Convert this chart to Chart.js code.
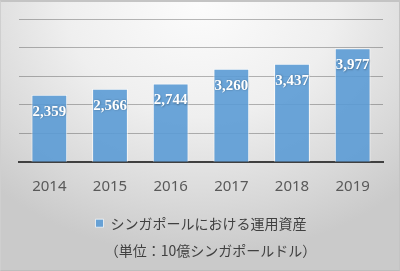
<!DOCTYPE html>
<html>
<head>
<meta charset="utf-8">
<script src="https://cdn.jsdelivr.net/npm/chart.js@4/dist/chart.umd.min.js"></script>
<style>
  html, body { margin: 0; padding: 0; }
  body { width: 400px; height: 271px; overflow: hidden; }
  .frame {
    position: relative;
    width: 400px; height: 271px;
    box-sizing: border-box;
    border-top: 2px solid #c4c4c4;
    border-left: 1px solid #cfcfcf;
    border-right: 1px solid #c4c4c4;
    border-bottom: 1px solid #bdbdbd;
    background: radial-gradient(ellipse 75% 95% at 50% 0%, #fcfcfc 0%, #efefef 45%, #d8d8d8 80%, #cacaca 100%);
  }
  canvas { position: absolute; left: -1px; top: -2px; }
</style>
</head>
<body>
<div class="frame">
  <canvas id="chart" width="400" height="271"></canvas>
</div>
<script>
// シンガポールにおける運用資産（単位：10億シンガポールドル）
const years = ['2014', '2015', '2016', '2017', '2018', '2019'];
const assets = [2359, 2566, 2744, 3260, 3437, 3977];
const seriesName = 'シンガポールにおける運用資産';
const unitNote = '      （単位：10億シンガポールドル）';

// 棒の中に数値を描く
const barValueLabels = {
  id: 'barValueLabels',
  afterDatasetsDraw(chart) {
    const ctx = chart.ctx;
    const meta = chart.getDatasetMeta(0);
    ctx.save();
    ctx.font = 'bold 15px "Liberation Serif", serif';
    ctx.fillStyle = '#ffffff';
    ctx.textAlign = 'center';
    ctx.textBaseline = 'middle';
    ctx.shadowColor = 'rgba(0,0,0,0.35)';
    ctx.shadowBlur = 2;
    ctx.shadowOffsetX = 0.5;
    ctx.shadowOffsetY = 0.5;
    meta.data.forEach((bar, i) => {
      ctx.fillText(assets[i].toLocaleString('en-US'), bar.x, bar.y + 17);
    });
    ctx.restore();
  }
};

// 凡例と単位の背景
const legendPanel = {
  id: 'legendPanel',
  beforeDraw(chart) {
    const lg = chart.legend;
    const sub = chart.subtitle;
    if (!lg || !sub) return;
    const ctx = chart.ctx;
    ctx.save();
    ctx.fillStyle = 'rgba(255,255,255,0.55)';
    ctx.fillRect(60, lg.top + 2, 283, sub.bottom - lg.top);
    ctx.restore();
  }
};

new Chart(document.getElementById('chart'), {
  type: 'bar',
  data: {
    labels: years,
    datasets: [{
      label: seriesName,
      data: assets,
      backgroundColor: 'rgba(91,155,213,0.9)',
      borderColor: 'rgba(255,255,255,0.7)',
      borderWidth: 1,
      categoryPercentage: 1,
      barPercentage: 0.59
    }]
  },
  options: {
    responsive: false,
    animation: false,
    layout: { padding: { top: 19, left: 19, right: 17, bottom: 12 } },
    scales: {
      x: {
        grid: { display: false },
        border: { display: true, color: '#404040', width: 2 },
        ticks: { color: '#595959', font: { family: '"Noto Sans", sans-serif', size: 15 }, padding: 8 }
      },
      y: {
        min: 0,
        max: 5000,
        ticks: { display: false, stepSize: 1000 },
        border: { display: false },
        grid: { color: 'rgba(0,0,0,0.27)', drawTicks: false }
      }
    },
    plugins: {
      legend: {
        position: 'bottom',
        labels: {
          color: '#404040',
          font: { family: '"Noto Sans CJK JP", sans-serif', size: 14 },
          boxWidth: 8,
          boxHeight: 8,
          padding: 12
        }
      },
      subtitle: {
        display: true,
        position: 'bottom',
        text: unitNote,
        color: '#404040',
        font: { family: '"Noto Sans CJK JP", sans-serif', size: 14, weight: 'normal' },
        padding: { top: 2, bottom: 0 }
      },
      tooltip: { enabled: false }
    }
  },
  plugins: [legendPanel, barValueLabels]
});
</script>
</body>
</html>
